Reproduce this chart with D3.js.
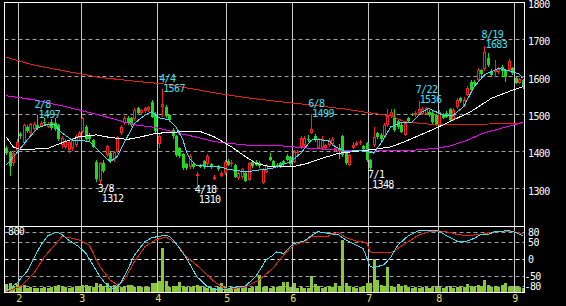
<!DOCTYPE html>
<html><head><meta charset="utf-8">
<script src="https://cdn.jsdelivr.net/npm/d3@7"></script>
<style>
html,body{margin:0;padding:0;background:#000;}
svg{display:block;}
text{font-family:"DejaVu Sans Mono",monospace;font-size:10px;letter-spacing:-0.6px;}
</style></head><body>
<svg id="chart" width="566" height="306"></svg>
<script>
// ---- DATA ----
// daily candles: [open, high, low, close]
const dailyOHLC = [
[1410,1415,1390,1395],[1398,1400,1335,1360],[1368,1400,1362,1396],[1400,1432,1395,1426],[1446,1452,1432,1440],
[1422,1474,1418,1471],[1466,1470,1450,1455],[1450,1476,1445,1472],[1460,1478,1455,1472],[1470,1497,1458,1462],
[1468,1480,1464,1476],[1478,1490,1470,1476],[1466,1478,1462,1474],[1478,1486,1458,1462],[1475,1490,1455,1460],
[1470,1474,1428,1432],[1418,1440,1410,1436],[1412,1432,1405,1428],[1404,1430,1395,1425],[1410,1435,1402,1430],
[1418,1444,1412,1440],[1435,1455,1428,1448],[1453,1492,1448,1488],[1466,1470,1428,1432],[1442,1448,1428,1432],
[1430,1434,1408,1412],[1372,1378,1318,1325],[1320,1372,1312,1368],[1370,1376,1342,1348],[1390,1418,1385,1414],
[1395,1400,1370,1376],[1380,1402,1372,1398],[1400,1442,1396,1438],[1448,1470,1444,1466],[1475,1494,1470,1490],
[1490,1495,1470,1476],[1488,1492,1466,1470],[1486,1516,1482,1512],[1516,1520,1498,1503],[1502,1514,1496,1510],
[1508,1520,1502,1516],[1510,1522,1506,1518],[1533,1538,1488,1492],[1500,1505,1450,1455],[1420,1450,1410,1441],
[1518,1567,1493,1528],[1520,1525,1490,1495],[1497,1500,1478,1485],[1457,1462,1432,1440],[1441,1445,1385,1390],
[1408,1412,1382,1388],[1393,1396,1350,1355],[1365,1368,1350,1355],[1358,1392,1354,1388],[1366,1370,1352,1358],
[1334,1345,1310,1340],[1362,1366,1356,1360],[1373,1376,1352,1358],[1365,1392,1362,1388],[1365,1370,1354,1358],
[1326,1336,1322,1332],[1360,1364,1348,1352],[1335,1346,1330,1342],[1341,1376,1336,1372],[1375,1380,1360,1364],
[1365,1378,1358,1370],[1363,1366,1328,1332],[1328,1346,1322,1343],[1330,1355,1326,1352],[1341,1345,1318,1321],
[1323,1372,1320,1368],[1372,1376,1356,1360],[1372,1376,1360,1364],[1370,1374,1356,1361],[1314,1356,1312,1352],
[1345,1366,1342,1363],[1384,1395,1374,1376],[1374,1378,1356,1360],[1364,1370,1356,1362],[1368,1372,1356,1360],
[1374,1378,1362,1366],[1387,1394,1374,1378],[1384,1388,1360,1365],[1372,1403,1368,1399],[1395,1404,1390,1399],
[1411,1440,1406,1435],[1417,1440,1412,1435],[1434,1443,1426,1430],[1450,1499,1446,1459],[1441,1446,1425,1430],
[1410,1437,1406,1433],[1410,1440,1406,1433],[1410,1420,1405,1416],[1417,1436,1412,1430],[1420,1438,1415,1433],
[1401,1414,1398,1410],[1410,1420,1380,1400],[1441,1444,1385,1390],[1399,1402,1364,1368],[1363,1394,1360,1390],
[1410,1424,1405,1418],[1418,1428,1414,1422],[1422,1430,1418,1426],[1415,1418,1403,1407],[1422,1426,1372,1377],
[1377,1380,1348,1355],[1417,1465,1412,1439],[1448,1452,1434,1439],[1444,1448,1428,1432],[1441,1476,1436,1471],
[1471,1513,1466,1495],[1494,1513,1490,1506],[1488,1513,1452,1457],[1480,1485,1460,1465],[1470,1475,1448,1452],
[1444,1482,1440,1477],[1488,1492,1478,1482],[1500,1504,1494,1497],[1496,1508,1492,1504],[1504,1536,1500,1513],
[1500,1518,1496,1513],[1501,1520,1498,1515],[1506,1510,1492,1497],[1504,1508,1472,1478],[1496,1500,1468,1472],
[1471,1510,1466,1506],[1500,1504,1486,1490],[1504,1508,1488,1492],[1513,1516,1480,1484],[1484,1516,1480,1512],
[1518,1542,1514,1538],[1542,1546,1530,1534],[1522,1545,1518,1538],[1551,1574,1548,1569],[1587,1592,1560,1564],
[1587,1590,1575,1580],[1591,1622,1588,1618],[1617,1620,1603,1607],[1620,1683,1616,1667],[1650,1664,1626,1630],
[1615,1620,1600,1605],[1612,1645,1600,1618],[1612,1626,1606,1620],[1627,1630,1600,1614],[1618,1620,1587,1600],
[1618,1648,1612,1643],[1623,1626,1605,1609],[1596,1600,1580,1583],[1584,1597,1580,1593],[1591,1594,1568,1573]
];
const volume = [
100,113,84,100,72,96,56,64,52,60, 60,72,52,72,84,96,84,72,60,72,
64,84,96,96,84,72,113,104,84,113, 50,96,72,72,84,96,96,72,84,72,
64,72,113,113,140,540,140,72,84,84, 130,84,72,72,84,96,84,72,60,56,
60,64,113,72,56,64,60,60,60,72, 60,72,84,212,72,84,60,64,72,84,
130,132,72,120,60,72,60,60,200,100, 84,60,72,84,72,113,84,632,113,84,
72,60,72,84,113,120,412,150,96,84, 312,84,72,100,84,96,72,60,72,60,
72,84,60,72,84,72,60,72,84,56, 72,84,72,100,84,72,96,84,152,96,
72,84,72,96,113,72,84,84,72,60
];
// moving averages as [day index, value]
const ma5 = [[0,1363],[3,1395],[6,1430],[9,1462],[12,1473],[14,1472],[16,1450],[19,1430],[21,1430],[24,1426],
[27,1399],[30,1372],[32,1386],[34,1422],[37,1475],[40,1497],[42,1506],[44,1490],[47,1484],[49,1466],[51,1430],
[52,1400],[53,1380],[55,1362],[58,1360],[61,1360],[64,1352],[69,1345],[73,1350],[77,1355],[82,1372],[85,1395],
[88,1430],[90,1432],[93,1428],[95,1412],[98,1399],[101,1402],[104,1400],[106,1395],[108,1420],[111,1466],
[114,1477],[117,1478],[120,1506],[122,1515],[126,1497],[129,1497],[132,1520],[135,1573],[138,1605],[142,1622],
[145,1616],[148,1607],[149,1596]];
const ma25 = [[0,1439],[2,1412],[4,1405],[8,1406],[12,1408],[17,1426],[21,1439],[26,1444],[30,1437],[35,1432],
[39,1439],[43,1448],[48,1451],[53,1454],[56,1453],[60,1439],[65,1412],[69,1386],[72,1368],[76,1359],[83,1359],
[87,1368],[91,1381],[96,1395],[105,1404],[111,1412],[115,1426],[124,1462],[134,1506],[140,1542],[145,1560],[149,1573]];
const ma75 = [[0,1549],[8,1538],[17,1520],[27,1497],[37,1471],[43,1464],[50,1448],[55,1438],[60,1426],[69,1417],
[79,1415],[88,1408],[98,1402],[105,1404],[115,1401],[124,1408],[128,1414],[133,1430],[138,1450],[143,1462],[147,1472],[149,1478]];
const ma200 = [[0,1652],[8,1631],[17,1615],[27,1598],[37,1588],[46,1580],[52,1570],[60,1557],[69,1544],[79,1533],
[88,1524],[98,1513],[105,1503],[111,1495],[115,1479],[123,1472],[135,1472],[149,1476]];
// stochastics [day index, value]
const stochK = [[0,-94],[3,-71],[6,-36],[8,4],[10,43],[12,71],[14,80],[15,80],[16,75],[18,58],[21,38],[23,18],
[25,-16],[27,-51],[29,-76],[31,-88],[33,-71],[35,-31],[37,13],[40,53],[42,65],[45,71],[47,70],[49,48],[52,4],
[55,-51],[58,-81],[61,-91],[64,-88],[67,-81],[69,-79],[72,-51],[75,-1],[77,13],[78,23],[80,18],[83,48],[86,55],
[88,71],[90,83],[93,78],[96,73],[98,58],[101,43],[103,33],[105,-21],[106,-24],[109,-16],[111,8],[113,43],[116,71],
[119,86],[122,86],[125,85],[127,71],[130,55],[133,55],[135,63],[137,75],[139,75],[141,83],[145,86],[147,81],[149,71]];
const stochD = [[0,-96],[4,-81],[8,-41],[11,8],[14,43],[16,68],[18,66],[21,58],[24,43],[27,-21],[30,-61],[32,-76],
[34,-61],[37,-7],[40,38],[43,58],[46,68],[49,48],[52,8],[56,-26],[60,-66],[63,-86],[66,-86],[69,-82],[73,-61],
[77,-26],[80,13],[83,43],[86,53],[88,68],[90,70],[93,70],[94,78],[96,80],[98,65],[101,55],[104,51],[105,23],
[106,20],[111,20],[113,33],[116,53],[119,73],[122,83],[125,85],[128,81],[130,75],[133,71],[137,75],[141,83],[145,85],[149,78]];
const monthBoundaries = [3.5,21.5,43.5,63.5,82.5,104.5,124.5,146.5];
const monthLabels = ["2","3","4","5","6","7","8","9"];
const priceTicks = [1300,1400,1500,1600,1700,1800];
const oscTicks = [80,50,0,-50,-80];
const volumeTopLabel = "800";
const peakDays = [9,45,88,119,138];
const peakDates = ["2/8","4/4","6/8","7/22","8/19"];
const troughDays = [27,55,105];
const troughDates = ["3/8","4/18","7/1"];

// ---- DRAW ----
const svg = d3.select("#chart");
const L=4.5, R=524.5, T=2.5, MID=226.5, B=292.5;
svg.append("rect").attr("width",566).attr("height",306).attr("fill","#000");
const defs = svg.append("defs");
defs.append("clipPath").attr("id","cm").append("rect").attr("x",5).attr("y",3).attr("width",519).attr("height",223);
defs.append("clipPath").attr("id","cl").append("rect").attr("x",5).attr("y",227).attr("width",519).attr("height",65);

const x = d3.scaleLinear().domain([0,dailyOHLC.length-1]).range([6.2,522.6]);
const yP = d3.scaleLinear().domain([1200,1800]).range([226,2]);
const yO = d3.scaleLinear().domain([-100,100]).range([293,226]);
const yV = d3.scaleLinear().domain([0,800]).range([292.5,226.5]);
const px = v => Math.round(v-0.5)+0.5;

const grid = svg.append("g");
grid.selectAll("line.hp").data(priceTicks.filter(v=>v<1800)).join("line")
  .attr("x1",L).attr("x2",R).attr("y1",d=>px(yP(d))).attr("y2",d=>px(yP(d)))
  .attr("stroke","#a0a0a0").attr("stroke-dasharray","4,3");
grid.selectAll("line.ho").data(oscTicks).join("line")
  .attr("x1",L).attr("x2",R).attr("y1",d=>px(yO(d))).attr("y2",d=>px(yO(d)))
  .attr("stroke",d=>d===0?"#ffffff":"#a0a0a0").attr("stroke-dasharray","4,3");
grid.selectAll("line.v").data(monthBoundaries).join("line")
  .attr("x1",d=>Math.round(x(d))+0.5).attr("x2",d=>Math.round(x(d))+0.5)
  .attr("y1",T).attr("y2",B).attr("stroke","#c8c8c8");

// volume
const low = svg.append("g").attr("clip-path","url(#cl)");
low.selectAll("rect").data(volume).join("rect")
  .attr("x",(d,i)=>Math.round(x(i))-1).attr("width",3)
  .attr("y",d=>Math.round(yV(d))).attr("height",d=>292-Math.round(yV(d)))
  .attr("fill","#8cc63f");
const lineO = d3.line().x(d=>x(d[0])).y(d=>yO(d[1]));
low.append("path").datum(stochD).attr("d",lineO).attr("fill","none").attr("stroke","#f02010").attr("shape-rendering","crispEdges");
low.append("path").datum(stochK).attr("d",lineO).attr("fill","none").attr("stroke","#40e0f0").attr("shape-rendering","crispEdges");

// candles
const main = svg.append("g").attr("clip-path","url(#cm)");
const RED="#ff2020", GREEN="#20d820";
const cg = main.selectAll("g.c").data(dailyOHLC).join("g");
cg.each(function(d,i){
  const [o,h,l,c]=d, g=d3.select(this);
  const cx=Math.round(x(i));
  const yt=Math.round(yP(Math.max(o,c))), yb=Math.round(yP(Math.min(o,c)));
  const yh=Math.round(yP(h)), yl=Math.round(yP(l));
  if(c>=o){
    g.append("line").attr("x1",cx+0.5).attr("x2",cx+0.5).attr("y1",yh).attr("y2",yt).attr("stroke",RED);
    g.append("line").attr("x1",cx+0.5).attr("x2",cx+0.5).attr("y1",yb).attr("y2",yl).attr("stroke",RED);
    if(yb-yt<3){
      g.append("rect").attr("x",cx-1).attr("y",yt).attr("width",3).attr("height",Math.max(1,yb-yt)).attr("fill",RED);
    } else {
      g.append("rect").attr("x",cx-0.5).attr("y",yt+0.5).attr("width",2).attr("height",yb-yt-1)
        .attr("fill","#000").attr("stroke",RED);
    }
  } else {
    g.append("line").attr("x1",cx+0.5).attr("x2",cx+0.5).attr("y1",yh).attr("y2",yl).attr("stroke",GREEN);
    g.append("rect").attr("x",cx-1).attr("y",yt).attr("width",3).attr("height",Math.max(1,yb-yt)).attr("fill",GREEN);
  }
});

// moving averages
const lineP = d3.line().x(d=>x(d[0])).y(d=>yP(d[1]));
[[ma200,"#e82010"],[ma75,"#f000f0"],[ma25,"#ffffff"],[ma5,"#40e0f0"]].forEach(([s,col])=>{
  main.append("path").datum(s).attr("d",lineP).attr("fill","none").attr("stroke",col).attr("shape-rendering","crispEdges");
});

// borders
const bd = svg.append("g").attr("stroke","#ffffff").attr("fill","none");
bd.append("rect").attr("x",L).attr("y",T).attr("width",R-L).attr("height",B-T);
bd.append("line").attr("x1",L).attr("x2",R).attr("y1",MID).attr("y2",MID);

// labels
const tx = svg.append("g");
tx.selectAll("text.p").data(priceTicks).join("text")
  .attr("x",528).attr("y",d=>yP(d)+6).attr("fill","#fff").text(d=>d);
tx.selectAll("text.o").data(oscTicks).join("text")
  .attr("x",d=>d<0?524.5:528).attr("y",d=>yO(d)+3.5).attr("fill","#fff").text(d=>d);
tx.append("text").attr("x",8).attr("y",234.6).attr("fill","#fff").text(volumeTopLabel);
tx.selectAll("text.m").data(monthBoundaries).join("text")
  .attr("x",d=>Math.round(x(d))+1).attr("y",301.6).attr("text-anchor","middle")
  .attr("fill","#e8e070").text((d,i)=>monthLabels[i]);
peakDays.forEach((di,k)=>{
  const cx=x(di), yh=yP(dailyOHLC[di][1]);
  tx.append("text").attr("x",cx-3).attr("y",yh-7.4).attr("fill","#40e0f0").text(peakDates[k]);
  tx.append("text").attr("x",cx+1).attr("y",yh+2.6).attr("fill","#40e0f0").text(dailyOHLC[di][1]);
});
troughDays.forEach((di,k)=>{
  const cx=x(di), yl=yP(dailyOHLC[di][2]);
  tx.append("text").attr("x",cx-2).attr("y",yl+7.6).attr("fill","#fff").text(troughDates[k]);
  tx.append("text").attr("x",cx+2).attr("y",yl+17.6).attr("fill","#fff").text(dailyOHLC[di][2]);
});
</script>
</body></html>
